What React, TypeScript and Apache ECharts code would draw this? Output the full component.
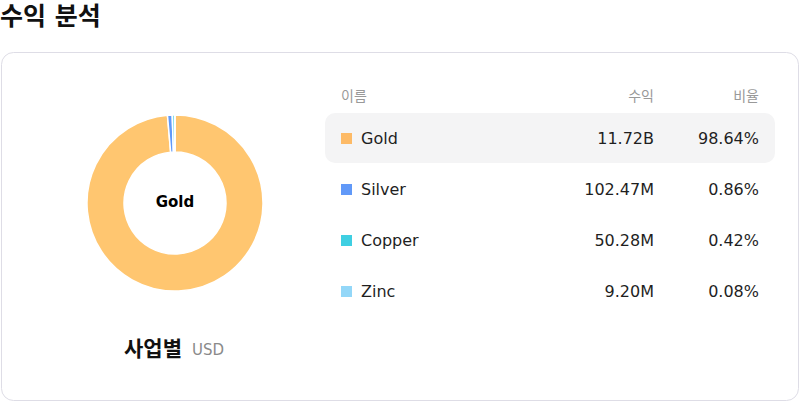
import React, { useEffect, useRef } from 'react';
import * as echarts from 'echarts';

const names = ['Gold', 'Silver', 'Copper', 'Zinc'];
const revenue = [11720000000, 102470000, 50280000, 9200000];
const revenueLabels = ['11.72B', '102.47M', '50.28M', '9.20M'];
const shareLabels = ['98.64%', '0.86%', '0.42%', '0.08%'];
const colors = ['#FDBA66', '#6199F8', '#3FCFE2', '#93D7F8'];
const pieColors = ['#FFC670', '#6199F8', '#3FCFE2', '#93D7F8'];
const headers = ['이름', '수익', '비율'];

const FONT = "'DejaVu Sans', 'Noto Sans CJK KR', sans-serif";

const App: React.FC = () => {
  const chartRef = useRef<HTMLDivElement>(null);

  useEffect(() => {
    const myChart = echarts.init(chartRef.current!, null, { renderer: 'svg' });

    const rowY = (i: number) => 138 + i * 51;

    const tableItems: any[] = [
      // highlighted first row
      {
        type: 'rect',
        shape: { x: 325, y: 113, width: 450, height: 50, r: 10 },
        style: { fill: '#f4f4f5' },
        z: 1,
      },
      {
        type: 'text',
        x: 341,
        y: 96,
        style: { text: headers[0], fill: '#999', font: `14px ${FONT}`, verticalAlign: 'middle' },
        z: 2,
      },
      {
        type: 'text',
        x: 654,
        y: 96,
        style: { text: headers[1], fill: '#999', font: `14px ${FONT}`, align: 'right', verticalAlign: 'middle' },
        z: 2,
      },
      {
        type: 'text',
        x: 759,
        y: 96,
        style: { text: headers[2], fill: '#999', font: `14px ${FONT}`, align: 'right', verticalAlign: 'middle' },
        z: 2,
      },
    ];

    names.forEach((name, i) => {
      const y = rowY(i);
      tableItems.push(
        {
          type: 'rect',
          shape: { x: 341, y: y - 5, width: 11, height: 11 },
          style: { fill: colors[i] },
          z: 2,
        },
        {
          type: 'text',
          x: 361,
          y,
          style: { text: name, fill: '#1f1f1f', font: `16px ${FONT}`, verticalAlign: 'middle' },
          z: 2,
        },
        {
          type: 'text',
          x: 654,
          y,
          style: { text: revenueLabels[i], fill: '#1f1f1f', font: `16px ${FONT}`, align: 'right', verticalAlign: 'middle' },
          z: 2,
        },
        {
          type: 'text',
          x: 759,
          y,
          style: { text: shareLabels[i], fill: '#1f1f1f', font: `16px ${FONT}`, align: 'right', verticalAlign: 'middle' },
          z: 2,
        }
      );
    });

    const option = {
      animation: false,
      textStyle: { fontFamily: FONT },
      graphic: [
        {
          type: 'text',
          x: 0,
          y: 16,
          style: { text: '수익 분석', fill: '#111', font: `bold 25px ${FONT}`, verticalAlign: 'middle' },
        },
        {
          type: 'rect',
          shape: { x: 1.5, y: 52.5, width: 797, height: 348, r: 12 },
          style: { fill: '#fff', stroke: '#dedde6', lineWidth: 1 },
          z: 0,
        },
        {
          type: 'text',
          x: 175,
          y: 202,
          style: { text: names[0], fill: '#000', font: `bold 15px ${FONT}`, align: 'center', verticalAlign: 'middle' },
          z: 3,
        },
        {
          type: 'text',
          x: 124,
          y: 349,
          style: { text: '사업별', fill: '#111', font: `bold 21px ${FONT}`, verticalAlign: 'middle' },
          z: 2,
        },
        {
          type: 'text',
          x: 192,
          y: 350,
          style: { text: 'USD', fill: '#8a8a8a', font: `15px ${FONT}`, verticalAlign: 'middle' },
          z: 2,
        },
        ...tableItems,
      ],
      series: [
        {
          type: 'pie',
          center: [175, 203],
          radius: [51, 88],
          startAngle: 90,
          clockwise: true,
          minAngle: 0,
          label: { show: false },
          labelLine: { show: false },
          itemStyle: { borderColor: '#fff', borderWidth: 1.5 },
          z: 3,
          data: names.map((name, i) => ({
            name,
            value: revenue[i],
            itemStyle: { color: pieColors[i] },
          })),
        },
      ],
    };

    myChart.setOption(option);

    return () => {
      myChart.dispose();
    };
  }, []);

  return (
    <div
      ref={chartRef}
      style={{ position: 'absolute', left: 0, top: 0, width: '800px', height: '402px' }}
    />
  );
};

export default App;
